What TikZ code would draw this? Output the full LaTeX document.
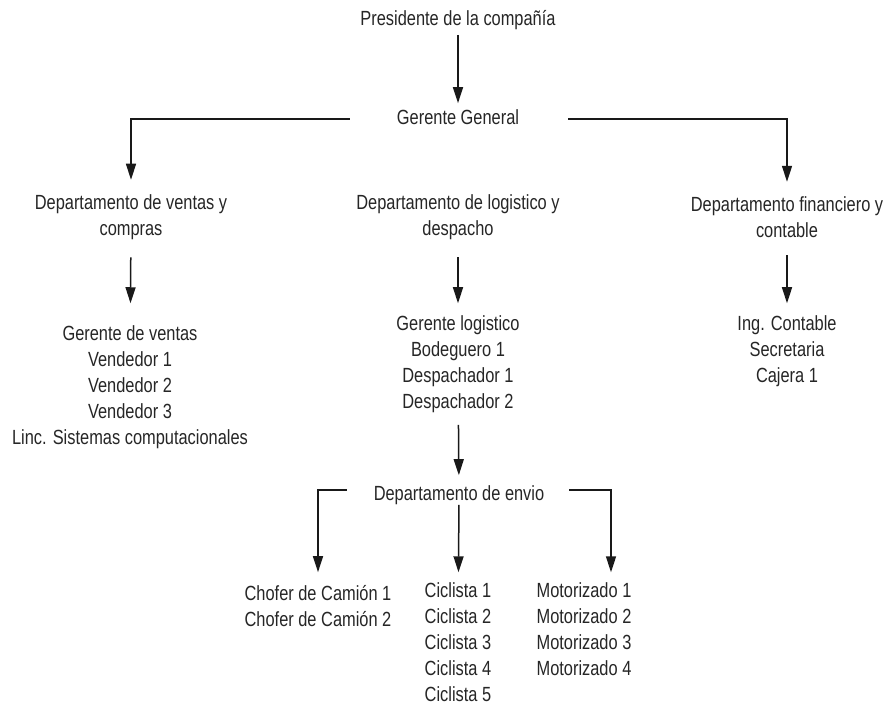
\documentclass[tikz,border=0pt]{standalone}
\usepackage{fontspec}
\setmainfont[FakeStretch=0.8]{Liberation Sans}
\usetikzlibrary{arrows.meta}
\definecolor{txt}{HTML}{262626}
\begin{document}
\begin{tikzpicture}[x=1pt,y=-1pt,
  lbl/.style={inner sep=0pt, align=center, text=txt, font=\fontsize{20.5}{26}\selectfont},
  one/.style={lbl, text height=15pt, text depth=4.3pt},
  arr/.style={draw=black!90, line width=1.5pt, -{Triangle[length=16pt,width=10pt]}}]
\useasboundingbox (0,0) rectangle (885,706);
\fill[white] (0,0) rectangle (885,706);

\node[one] (pres) at (458,20) {Presidente de la compañía};
\node[one] (gg) at (458,119) {Gerente General};
\node[lbl] (dv) at (131,217.5) {Departamento de ventas y\\compras};
\node[lbl] (dl) at (458,217.5) {Departamento de logistico y\\despacho};
\node[lbl] (df) at (787,217.5) {Departamento financiero y\\contable};
\node[lbl] (lv) at (130,387) {Gerente de ventas\\Vendedor 1\\Vendedor 2\\Vendedor 3\\Linc. Sistemas computacionales};
\node[lbl] (ll) at (458,364) {Gerente logistico\\Bodeguero 1\\Despachador 1\\Despachador 2};
\node[lbl] (lf) at (787,351) {Ing. Contable\\Secretaria\\Cajera 1};
\node[one] (env) at (459,495) {Departamento de envio};
\node[lbl] (ch) at (318,606) {Chofer de Camión 1\\Chofer de Camión 2};
\node[lbl] (ci) at (458,642) {Ciclista 1\\Ciclista 2\\Ciclista 3\\Ciclista 4\\Ciclista 5};
\node[lbl] (mo) at (584,629) {Motorizado 1\\Motorizado 2\\Motorizado 3\\Motorizado 4};

\draw[arr, shorten <=5pt, shorten >=6pt] (pres) -- (gg);
\draw[arr, shorten <=47pt, shorten >=15pt] (gg.west) -| (dv.north);
\draw[arr, shorten <=49pt, shorten >=15pt] (gg.east) -| (df.north);
\draw[arr, shorten <=17pt, shorten >=22pt] (dv) -- (lv);
\draw[arr, shorten <=17pt, shorten >=12pt] (dl) -- (ll);
\draw[arr, shorten <=17pt, shorten >=12pt] (df) -- (lf);
\draw[arr, shorten <=12pt, shorten >=10pt] (ll) -- (env);
\draw[arr, shorten <=27pt, shorten >=13pt] ([yshift=5pt]env.west) -| (ch.north);
\draw[arr, shorten <=0pt, shorten >=10pt] (env) -- (ci);
\draw[arr, shorten <=25pt, shorten >=10pt] ([yshift=5pt]env.east) -| ([xshift=27pt]mo.north);
\end{tikzpicture}
\end{document}
